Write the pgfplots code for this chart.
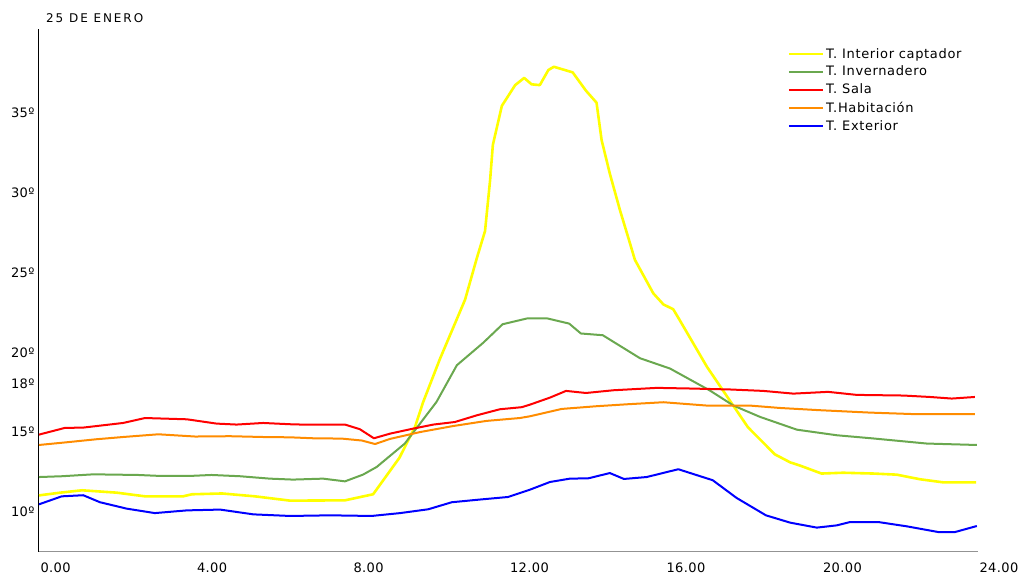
\documentclass[border=0pt]{standalone}
\usepackage{fontspec}
\setmainfont{DejaVu Sans}
\newfontfamily\legfont[LetterSpace=5]{DejaVu Sans}
\newfontfamily\titfont[LetterSpace=16]{DejaVu Sans}
\newfontfamily\tickfont[LetterSpace=3]{DejaVu Sans}
\usepackage{pgfplots}
\pgfplotsset{compat=1.18}
\definecolor{cyel}{HTML}{FFFF00}
\definecolor{cgrn}{HTML}{6AA84F}
\definecolor{cred}{HTML}{FF0000}
\definecolor{corg}{HTML}{FF8C00}
\definecolor{cblu}{HTML}{0000FF}
\begin{document}
\begin{tikzpicture}
\useasboundingbox (0,0) rectangle (1018pt,575pt);
\node[anchor=west,font=\titfont\fontsize{12}{14}\selectfont,inner sep=0pt] at (46pt,557pt) {25 DE ENERO};
\begin{axis}[
  at={(39pt,23.3pt)}, anchor=south west,
  scale only axis, width=939pt, height=522.4pt,
  xmin=0, xmax=24, ymin=7.5, ymax=40.25,
  axis x line=bottom, axis y line=left,
  x axis line style={-, draw=gray!85, line width=1.2pt},
  y axis line style={-, draw=black, line width=1pt},
  major tick length=0pt,
  xtick={0,4,8,12,16,20,24},
  xticklabels={0.00,4.00,8.00,12.00,16.00,20.00,24.00},
  ytick={10,15,18,20,25,30,35},
  yticklabels={10º,15º,18º,20º,25º,30º,35º},
  /pgf/number format/assume math mode=true,
  tick label style={font=\tickfont\fontsize{13}{15}\selectfont},
  xticklabel style={anchor=north west, xshift=-2pt, yshift=-8pt},
  yticklabel style={anchor=east, xshift=-1pt},
  legend style={draw=none, fill=none, at={(0.797,0.968)}, anchor=north west,
    font=\legfont\fontsize{13}{15}\selectfont, row sep=2.5pt, inner sep=0pt},
  legend cell align=left,
  legend image code/.code={\draw[#1] (0pt,0pt) -- (34pt,0pt);},
  every axis plot/.append style={line join=round},
]
\addplot[cyel, line width=2.6pt, mark=none] coordinates {
(0,11.03) (0.54,11.2) (1.1,11.35) (1.99,11.2) (2.71,10.97) (3.68,10.97) (3.91,11.1) (4.68,11.15) (5.52,10.97) (6.42,10.7) (7.82,10.72) (8.54,11.1) (9.21,13.38) (9.61,15.32) (9.82,16.89) (10.25,19.6) (10.89,23.3) (11.19,25.9) (11.4,27.6) (11.53,30.8) (11.6,33.0) (11.83,35.45) (12.17,36.75) (12.4,37.2) (12.59,36.8) (12.8,36.75) (13.02,37.7) (13.16,37.9) (13.64,37.55) (13.98,36.4) (14.25,35.65) (14.38,33.3) (14.59,31.2) (14.85,28.9) (15.06,27.2) (15.23,25.8) (15.7,23.7) (15.96,23.0) (16.21,22.7) (16.38,22.0) (17.07,19.1) (18.12,15.3) (18.81,13.6) (19.2,13.1) (19.45,12.9) (20.0,12.4) (20.55,12.45) (21.32,12.4) (21.92,12.33) (22.52,12.04) (23.1,11.85) (23.95,11.85)
};
\addlegendentry{T. Interior captador}
\addplot[cgrn, line width=2pt, mark=none] coordinates {
(0,12.18) (0.58,12.23) (1.39,12.35) (2.53,12.31) (3.09,12.25) (3.86,12.25) (4.41,12.31) (5.14,12.23) (5.90,12.08) (6.49,12.02) (7.26,12.08) (7.82,11.91) (8.28,12.33) (8.63,12.81) (9.35,14.28) (10.16,16.89) (10.68,19.19) (11.35,20.59) (11.85,21.76) (12.47,22.12) (13.0,22.12) (13.55,21.8) (13.85,21.18) (14.41,21.07) (15.36,19.63) (16.13,18.98) (17.15,17.6) (17.75,16.66) (18.43,15.95) (19.37,15.15) (20.39,14.8) (21.32,14.6) (22.69,14.28) (23.97,14.19)
};
\addlegendentry{T. Invernadero}
\addplot[cred, line width=2pt, mark=none] coordinates {
(0,14.84) (0.66,15.26) (1.13,15.28) (2.15,15.57) (2.71,15.88) (3.78,15.8) (4.54,15.53) (5.05,15.47) (5.73,15.57) (6.42,15.49) (6.71,15.47) (7.82,15.47) (8.20,15.18) (8.56,14.61) (8.97,14.9) (9.57,15.22) (10.08,15.47) (10.63,15.63) (11.19,16.05) (11.78,16.43) (12.34,16.56) (12.55,16.72) (13.06,17.16) (13.47,17.58) (13.98,17.45) (14.68,17.62) (15.79,17.77) (16.64,17.73) (17.66,17.67) (18.51,17.58) (19.28,17.41) (20.17,17.52) (20.9,17.33) (22.09,17.29) (22.77,17.2) (23.33,17.1) (23.92,17.2)
};
\addlegendentry{T. Sala}
\addplot[corg, line width=2pt, mark=none] coordinates {
(0,14.19) (0.71,14.36) (1.47,14.55) (2.15,14.69) (3.05,14.86) (3.99,14.72) (4.88,14.74) (5.73,14.69) (6.42,14.67) (7.01,14.61) (7.74,14.59) (8.25,14.47) (8.59,14.25) (8.97,14.57) (9.74,15.0) (10.59,15.38) (11.44,15.70) (12.29,15.88) (12.55,15.99) (13.36,16.45) (14.25,16.62) (15.02,16.74) (15.96,16.87) (17.07,16.66) (18.17,16.66) (18.94,16.51) (19.96,16.37) (21.24,16.22) (22.43,16.12) (23.92,16.12)
};
\addlegendentry{T.Habitación}
\addplot[cblu, line width=2pt, mark=none] coordinates {
(0,10.47) (0.58,10.97) (1.13,11.04) (1.56,10.6) (2.24,10.2) (2.96,9.92) (3.78,10.09) (4.63,10.14) (5.48,9.84) (6.42,9.74) (7.44,9.78) (8.50,9.74) (9.23,9.92) (9.95,10.16) (10.55,10.6) (11.27,10.77) (11.99,10.93) (12.55,11.39) (13.06,11.87) (13.57,12.08) (14.04,12.1) (14.59,12.43) (14.95,12.06) (15.53,12.18) (16.34,12.67) (17.22,11.98) (17.83,10.87) (18.58,9.78) (19.2,9.32) (19.88,9.01) (20.39,9.15) (20.73,9.36) (21.45,9.36) (22.18,9.09) (22.99,8.73) (23.41,8.73) (23.97,9.11)
};
\addlegendentry{T. Exterior}
\end{axis}
\end{tikzpicture}
\end{document}
